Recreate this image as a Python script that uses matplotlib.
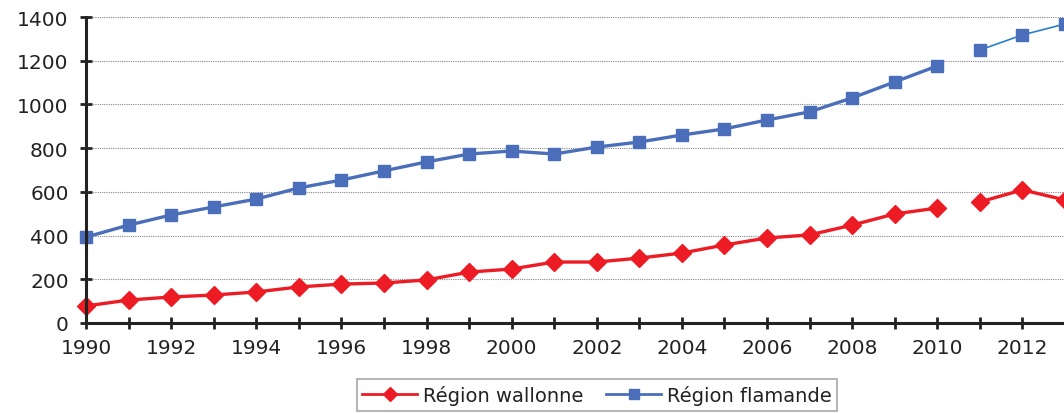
import matplotlib
matplotlib.use("Agg")
import matplotlib.pyplot as plt
from matplotlib.lines import Line2D

years = list(range(1990, 2014))
wallonne = [78, 105, 119, 128, 142, 165, 178, 183, 197, 233, 247, 279, 279, 297,
            320, 357, 389, 403, 448, 499, 526, 554, 609, 563]
flamande = [393, 448, 494, 531, 567, 618, 654, 696, 737, 773, 787, 773, 805, 828,
            860, 888, 929, 966, 1030, 1103, 1176, 1249, 1318, 1368]
labels = ["Région wallonne", "Région flamande"]
yticks = [0, 200, 400, 600, 800, 1000, 1200, 1400]
xticks = list(range(1990, 2014, 2))
split = years.index(2011)

red = "#ED1C24"
blue = "#4A6EBA"
blue_thin = "#2A7FCB"

fig = plt.figure(figsize=(10.64, 4.14), dpi=100)
ax = fig.add_axes([86 / 1064, 90 / 414, 979 / 1064, 306 / 414])

# Wallonne
ax.plot(years[:split], wallonne[:split], color=red, lw=2.4, marker="D", ms=9,
        mfc=red, mec=red, clip_on=False, zorder=3)
ax.plot(years[split:], wallonne[split:], color=red, lw=2.4, marker="D", ms=9,
        mfc=red, mec=red, clip_on=True, zorder=3)
# Flamande
ax.plot(years[:split], flamande[:split], color=blue, lw=2.4, marker="s", ms=9,
        mfc=blue, mec=blue, clip_on=False, zorder=3)
ax.plot(years[split:], flamande[split:], color=blue_thin, lw=1.2, marker="s", ms=9,
        mfc=blue, mec=blue, clip_on=True, zorder=3)

ax.set_xlim(1990, 2013)
ax.set_ylim(0, 1400)
ax.set_xticks(xticks)
ax.set_xticks(years, minor=True)
ax.set_yticks(yticks)
ax.tick_params(axis="both", which="both", direction="inout", length=9, width=2,
               color="#222222", labelsize=14.5, labelcolor="#222222")
ax.tick_params(axis="y", pad=8)
ax.tick_params(axis="x", pad=6)

for s in ["top", "right"]:
    ax.spines[s].set_visible(False)
for s in ["left", "bottom"]:
    ax.spines[s].set_linewidth(2.2)
    ax.spines[s].set_color("#222222")
    ax.spines[s].set_zorder(4)

ax.yaxis.grid(True, linestyle=(0, (1, 1)), color="#888888", lw=0.8)
ax.set_axisbelow(True)

handles = [
    Line2D([], [], color=red, lw=2, marker="D", ms=7, mfc=red, mec=red),
    Line2D([], [], color=blue, lw=2, marker="s", ms=7, mfc=blue, mec=blue),
]
leg = fig.legend(handles, labels, loc="center", bbox_to_anchor=(597 / 1064, 1 - 396 / 414),
                 ncol=2, fontsize=14, frameon=True, fancybox=False,
                 edgecolor="#999999", handlelength=2.8, columnspacing=1.2,
                 borderpad=0.3, borderaxespad=0, handletextpad=0.3)
leg.get_frame().set_linewidth(1.3)
for t in leg.get_texts():
    t.set_color("#222222")

fig.savefig("out.png", dpi=100)
